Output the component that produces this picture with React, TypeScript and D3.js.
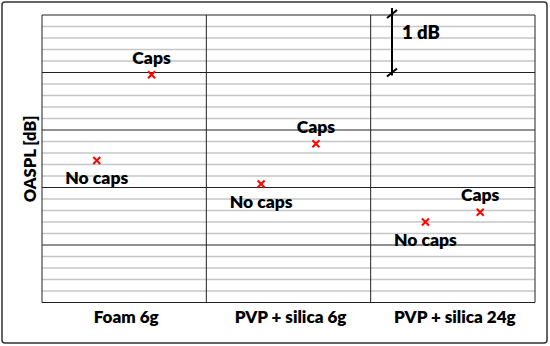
import React from "react";
import * as d3 from "d3";

const categories = ["Foam 6g", "PVP + silica 6g", "PVP + silica 24g"];
const variants = ["No caps", "Caps"];
const noCapsValues = [2.47, 2.06, 1.4];
const capsValues = [3.96, 2.76, 1.57];
const yMajorTicks = [0, 1, 2, 3, 4, 5];
const scaleBarRange = [4, 5];
const scaleBarLabel = "1 dB";
const yLabel = "OASPL [dB]";

const W = 550;
const H = 346;
const margin = { left: 42, right: 15, top: 15, bottom: 43.5 };
const FONT = "Lato, 'Open Sans', sans-serif";
const WEIGHT = 800;

export default function App() {
  const x = d3
    .scaleBand<string>()
    .domain(categories)
    .range([margin.left, W - margin.right])
    .paddingInner(0)
    .paddingOuter(0);
  const bw = x.bandwidth();
  const xs = d3
    .scalePoint<string>()
    .domain(variants)
    .range([bw / 3, (2 * bw) / 3]);
  const y = d3
    .scaleLinear()
    .domain([0, 5])
    .range([H - margin.bottom, margin.top]);

  const minorTicks = d3.range(0, 25).map((i) => i * 0.2).filter((v) => Math.abs(v - Math.round(v)) > 1e-6);

  const points = categories.flatMap((c, i) => [
    { cat: c, variant: "No caps", value: noCapsValues[i] },
    { cat: c, variant: "Caps", value: capsValues[i] },
  ]);

  const x0 = margin.left;
  const x1 = W - margin.right;
  const sbX = 392;
  const sbTop = y(scaleBarRange[1]);
  const sbBot = y(scaleBarRange[0]);

  return (
    <svg width={W} height={H} style={{ display: "block", position: "absolute", left: 0, top: 0 }}>
      <rect x={0} y={0} width={W} height={H} fill="#fff" />
      <rect x={2} y={2} width={545} height={341} rx={3} fill="#fff" stroke="#333" strokeWidth={1.5} />
      {minorTicks.map((v) => (
        <line key={"m" + v} x1={x0} x2={x1} y1={y(v)} y2={y(v)} stroke="#c6c6c6" strokeWidth={1.5} />
      ))}
      {yMajorTicks.map((v) => (
        <line key={"M" + v} x1={x0} x2={x1} y1={y(v)} y2={y(v)} stroke="#222" strokeWidth={1} />
      ))}
      {categories.map((c) => (
        <line key={"v" + c} x1={x(c)!} x2={x(c)!} y1={y(0)} y2={y(5)} stroke="#222" strokeWidth={1} />
      ))}
      <line x1={x1} x2={x1} y1={y(0)} y2={y(5)} stroke="#222" strokeWidth={1} />

      {points.map((p, i) => {
        const cx = x(p.cat)! + xs(p.variant)!;
        const cy = y(p.value);
        const s = 3.5;
        const isCaps = p.variant === "Caps";
        return (
          <g key={i}>
            <path
              d={`M${cx - s},${cy - s}L${cx + s},${cy + s}M${cx - s},${cy + s}L${cx + s},${cy - s}`}
              stroke="#ff0000"
              strokeWidth={2}
            />
            <text
              x={cx}
              y={isCaps ? cy - 11 : cy + 24}
              textAnchor="middle"
              fontFamily={FONT}
              fontWeight={WEIGHT}
              fontSize={17.5}
              fill="#000"
            >
              {p.variant}
            </text>
          </g>
        );
      })}

      {categories.map((c) => (
        <text
          key={"l" + c}
          x={x(c)! + bw / 2 + 2}
          y={323}
          textAnchor="middle"
          fontFamily={FONT}
          fontWeight={WEIGHT}
          fontSize={17}
          fill="#000"
        >
          {c}
        </text>
      ))}

      <text
        transform={`translate(35.5,${(y(0) + y(5)) / 2}) rotate(-90)`}
        textAnchor="middle"
        fontFamily={FONT}
        fontWeight={WEIGHT}
        fontSize={16.5}
        fill="#000"
      >
        {yLabel}
      </text>

      <g stroke="#000" strokeWidth={2}>
        <line x1={sbX} x2={sbX} y1={sbTop - 7} y2={sbBot + 3} />
        <line x1={sbX - 5} x2={sbX + 5} y1={sbTop + 3} y2={sbTop - 5} />
        <line x1={sbX - 5} x2={sbX + 5} y1={sbBot + 4} y2={sbBot - 4} />
      </g>
      <text x={sbX + 10} y={(sbTop + sbBot) / 2 - 5} fontFamily={FONT} fontWeight={WEIGHT} fontSize={18.5} fill="#000">
        {scaleBarLabel}
      </text>
    </svg>
  );
}
